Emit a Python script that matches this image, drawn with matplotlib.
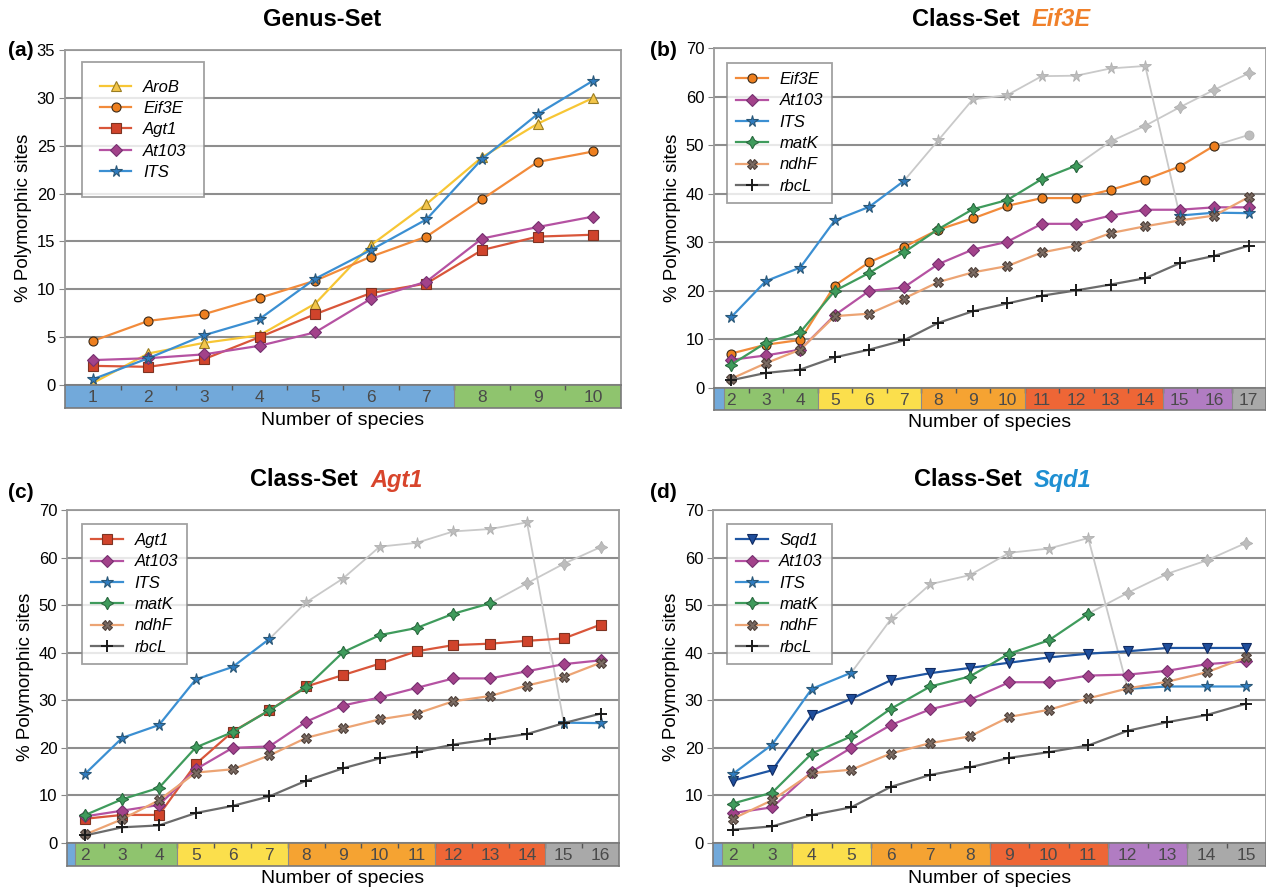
import numpy as np
import matplotlib
matplotlib.use('Agg')
import matplotlib.pyplot as plt

plt.rcParams['font.family'] = ['Liberation Sans', 'DejaVu Sans']

# ---- data ----
# (a) Genus-Set
species_a = list(range(1, 11))
arob_a = [0.2, 3.3, 4.4, 5.2, 8.5, 14.6, 18.9, 23.8, 27.3, 30.0]
eif3e_a = [4.6, 6.7, 7.4, 9.1, 10.9, 13.4, 15.5, 19.4, 23.3, 24.4]
agt1_a = [2.0, 1.9, 2.7, 5.0, 7.4, 9.6, 10.6, 14.1, 15.5, 15.7]
at103_a = [2.6, 2.8, 3.2, 4.1, 5.5, 9.0, 10.8, 15.3, 16.5, 17.6]
its_a = [0.6, 2.8, 5.2, 6.9, 11.1, 14.1, 17.3, 23.6, 28.3, 31.8]

# (b) Class-Set Eif3E
species_b = list(range(2, 18))
eif3e_b = [7.1, 8.9, 9.9, 21.1, 25.9, 29.0, 32.6, 34.9, 37.5, 39.1, 39.1, 40.8, 42.9, 45.6, 49.9]
eif3e_b_grey = [49.9, 52.1]
at103_b = [5.8, 6.7, 7.9, 15.0, 20.0, 20.7, 25.5, 28.5, 30.1, 33.8, 33.8, 35.5, 36.7, 36.7, 37.2, 37.2]
its_b = [14.6, 22.0, 24.8, 34.5, 37.3, 42.6]
its_b_grey = [42.6, 51.0, 59.4, 60.3, 64.2, 64.3, 65.8, 66.3, 35.5]
its_b_end = [35.5, 36.1, 36.0]
matk_b = [4.8, 9.3, 11.5, 20.0, 23.7, 27.9, 32.7, 36.8, 38.7, 43.0, 45.8]
matk_b_grey = [45.8, 50.8, 54.0, 57.8, 61.4, 64.8]
ndhf_b = [1.9, 5.1, 7.9, 14.8, 15.3, 18.4, 21.8, 23.8, 25.1, 27.9, 29.3, 31.9, 33.3, 34.5, 35.5, 39.3]
rbcl_b = [1.6, 3.1, 3.8, 6.3, 7.9, 9.8, 13.4, 15.8, 17.4, 19.0, 20.1, 21.3, 22.6, 25.7, 27.2, 29.3]

# (c) Class-Set Agt1
species_c = list(range(2, 17))
agt1_c = [5.1, 5.9, 5.9, 16.6, 23.4, 27.9, 32.9, 35.3, 37.7, 40.3, 41.6, 41.9, 42.5, 43.0, 45.9]
at103_c = [5.6, 6.8, 8.0, 15.5, 20.0, 20.3, 25.5, 28.9, 30.6, 32.6, 34.6, 34.6, 36.1, 37.6, 38.4]
its_c = [14.6, 22.1, 24.8, 34.4, 37.0, 42.9]
its_c_grey = [42.9, 50.6, 55.6, 62.3, 63.1, 65.5, 66.0, 67.4, 25.3]
its_c_end = [25.3, 25.2]
matk_c = [5.9, 9.2, 11.6, 20.1, 23.3, 27.9, 32.7, 40.1, 43.7, 45.2, 48.2, 50.4]
matk_c_grey = [50.4, 54.6, 58.7, 62.2]
ndhf_c = [1.8, 5.0, 9.0, 14.8, 15.5, 18.4, 22.1, 24.1, 26.0, 27.2, 29.8, 30.9, 33.1, 34.9, 37.9]
rbcl_c = [1.6, 3.3, 3.7, 6.3, 7.8, 9.8, 13.1, 15.7, 17.8, 19.1, 20.7, 21.8, 22.9, 25.2, 27.2]

# (d) Class-Set Sqd1
species_d = list(range(2, 16))
sqd1_d = [13.1, 15.3, 26.9, 30.3, 34.2, 35.7, 36.8, 37.9, 39.0, 39.8, 40.3, 41.0, 41.0, 41.0]
at103_d = [6.3, 7.5, 15.0, 20.0, 24.8, 28.1, 30.1, 33.8, 33.8, 35.2, 35.4, 36.2, 37.6, 38.2]
its_d = [14.5, 20.7, 32.4, 35.8]
its_d_grey = [35.8, 47.0, 54.4, 56.3, 61.0, 61.9, 64.1, 32.4]
its_d_end = [32.4, 32.9, 32.9, 32.9]
matk_d = [8.3, 10.6, 18.8, 22.4, 28.2, 32.9, 35.0, 39.8, 42.6, 48.2]
matk_d_grey = [48.2, 52.6, 56.6, 59.4, 63.1]
ndhf_d = [5.1, 9.0, 14.7, 15.4, 18.8, 21.0, 22.4, 26.5, 28.0, 30.4, 32.5, 33.9, 35.9, 39.0]
rbcl_d = [2.8, 3.5, 5.9, 7.5, 11.8, 14.3, 15.9, 17.9, 19.1, 20.5, 23.6, 25.4, 26.9, 29.3]

# colour strip under each x axis: (start, end, colour)
strip_a = [(0.5, 7.5, 'blue'), (7.5, 10.5, 'green')]
strip_b = [(1.5, 1.79, 'blue'), (1.79, 4.5, 'green'), (4.5, 7.5, 'yellow'), (7.5, 10.5, 'orange'),
           (10.5, 14.5, 'red'), (14.5, 16.5, 'purple'), (16.5, 17.5, 'grey')]
strip_c = [(1.5, 1.73, 'blue'), (1.73, 4.5, 'green'), (4.5, 7.5, 'yellow'), (7.5, 11.5, 'orange'),
           (11.5, 14.5, 'red'), (14.5, 16.5, 'grey')]
strip_d = [(1.5, 1.73, 'blue'), (1.73, 3.5, 'green'), (3.5, 5.5, 'yellow'), (5.5, 8.5, 'orange'),
           (8.5, 11.5, 'red'), (11.5, 13.5, 'purple'), (13.5, 15.5, 'grey')]

strip_colours = {'blue': '#72a9da', 'green': '#8fc46e', 'yellow': '#fbdf4c', 'orange': '#f5a332',
                 'red': '#ee6636', 'purple': '#b17cc2', 'grey': '#a9a9a9'}

# line colour, marker, marker face, marker edge
styles = {
    'AroB': ('#f7c635', '^', '#f3c54a', '#9a7d22'),
    'Eif3E': ('#f28b3b', 'o', '#ee7f1e', '#3b2a18'),
    'Agt1': ('#d9563a', 's', '#d0432b', '#7e3322'),
    'At103': ('#b552a2', 'D', '#a2428a', '#763070'),
    'ITS': ('#3b8fd2', '*', '#2f7cc0', '#2a5878'),
    'matK': ('#3f9b5c', (4, 1, 0), '#3f9b5c', '#2a6a40'),
    'ndhF': ('#eca474', 'X', '#7a6a62', '#4f4039'),
    'rbcL': ('#6b6b6b', '+', '#222222', '#222222'),
    'Sqd1': ('#1f56a3', 'v', '#1f4e9c', '#102a60'),
}
GREY = '#c9c9c9'

fig = plt.figure(figsize=(12.66, 8.93), dpi=100)
W, H = 1266, 893


def px_axes(left, top, right, bottom):
    return fig.add_axes([left / W, 1 - bottom / H, (right - left) / W, (bottom - top) / H])


def marker_size(mk):
    if mk == '*':
        return 8.5
    if mk == (4, 1, 0):
        return 9
    if mk == 'D':
        return 6
    return 6.5


def draw_series(ax, x, y, name, label=True):
    lc, mk, fc, ec = styles[name]
    if name == 'rbcL':
        ax.plot(x, y, color=lc, lw=1.6, marker='+', ms=8, mew=1.4, mec='#1a1a1a',
                label=name if label else None, zorder=3)
    else:
        ax.plot(x, y, color=lc, lw=1.6, marker=mk, ms=marker_size(mk), mfc=fc, mec=ec, mew=0.8,
                label=name if label else None, zorder=3)


def draw_grey(ax, x, y, name):
    # light grey continuation of a series
    mk = styles[name][1]
    ax.plot(x, y, color=GREY, lw=1.3, marker=mk, ms=marker_size(mk), mfc='#bdbdbd',
            mec='#b0b0b0', mew=0.6, zorder=2)


def setup_panel(box, strip_box, ymax, ystep, xlo, xhi, strip, species):
    ax = px_axes(*box)
    sx = px_axes(*strip_box)
    ax.set_xlim(xlo, xhi)
    ax.set_ylim(0, ymax)
    ax.set_yticks(np.arange(0, ymax + 1, ystep))
    ax.set_xticks([])
    ax.yaxis.grid(True, color='#8e8e8e', lw=1.5)
    ax.set_axisbelow(True)
    for s in ax.spines.values():
        s.set_color('#9a9a9a')
        s.set_linewidth(1.3)
    ax.tick_params(axis='y', length=4, color='#888888', labelsize=12, pad=3)
    ax.set_ylabel('% Polymorphic sites', fontsize=13.5, labelpad=3)

    # coloured strip with the species counts
    sx.set_xlim(xlo, xhi)
    sx.set_ylim(0, 1)
    for a, b, c in strip:
        sx.axvspan(a, b, color=strip_colours[c], lw=0)
        sx.axvline(b, color='#8a8a8a', lw=0.8)
    for n in species:
        sx.text(n, 0.45, str(n), ha='center', va='center', fontsize=12.5, color='#4a4a4a')
    sx.set_yticks([])
    sx.set_xticks([n + 0.5 for n in species[:-1]])
    sx.tick_params(axis='x', top=True, bottom=False, labelbottom=False, direction='in',
                   length=3.5, color='#555555', width=1)
    for s in sx.spines.values():
        s.set_color('#7a7a7a')
        s.set_linewidth(1.2)
    sx.set_xlabel('Number of species', fontsize=14, labelpad=3)
    return ax


def add_legend(ax, anchor, pad):
    leg = ax.legend(loc='upper left', bbox_to_anchor=anchor, frameon=True, fancybox=False,
                    edgecolor='#8a8a8a', prop={'style': 'italic', 'size': 12},
                    handlelength=1.9, labelspacing=0.38, borderpad=pad, handletextpad=0.7,
                    borderaxespad=0)
    leg.get_frame().set_linewidth(1.3)
    leg.set_zorder(5)


# ---- panel (a) ----
ax = setup_panel((65, 50, 621, 385), (65, 385, 621, 408), 35, 5, 0.5, 10.5, strip_a, species_a)
for name, vals in [('AroB', arob_a), ('Eif3E', eif3e_a), ('Agt1', agt1_a), ('At103', at103_a), ('ITS', its_a)]:
    draw_series(ax, species_a, vals, name)
add_legend(ax, (0.031, 0.964), 1.05)

# ---- panel (b) ----
ax = setup_panel((714, 48, 1266, 388), (714, 388, 1266, 410), 70, 10, 1.5, 17.5, strip_b, species_b)
draw_grey(ax, species_b[5:14], its_b_grey, 'ITS')
draw_grey(ax, species_b[10:], matk_b_grey, 'matK')
draw_grey(ax, species_b[14:], eif3e_b_grey, 'Eif3E')
draw_series(ax, species_b[:len(eif3e_b)], eif3e_b, 'Eif3E')
draw_series(ax, species_b, at103_b, 'At103')
draw_series(ax, species_b[:len(its_b)], its_b, 'ITS')
draw_series(ax, species_b[13:], its_b_end, 'ITS', label=False)
draw_series(ax, species_b[:len(matk_b)], matk_b, 'matK')
draw_series(ax, species_b, ndhf_b, 'ndhF')
draw_series(ax, species_b, rbcl_b, 'rbcL')
add_legend(ax, (0.024, 0.956), 0.55)

# ---- panel (c) ----
ax = setup_panel((67, 510, 619, 843), (67, 843, 619, 866), 70, 10, 1.5, 16.5, strip_c, species_c)
draw_grey(ax, species_c[5:14], its_c_grey, 'ITS')
draw_grey(ax, species_c[11:], matk_c_grey, 'matK')
draw_series(ax, species_c, agt1_c, 'Agt1')
draw_series(ax, species_c, at103_c, 'At103')
draw_series(ax, species_c[:len(its_c)], its_c, 'ITS')
draw_series(ax, species_c[13:], its_c_end, 'ITS', label=False)
draw_series(ax, species_c[:len(matk_c)], matk_c, 'matK')
draw_series(ax, species_c, ndhf_c, 'ndhF')
draw_series(ax, species_c, rbcl_c, 'rbcL')
add_legend(ax, (0.027, 0.958), 0.55)

# ---- panel (d) ----
ax = setup_panel((713, 510, 1266, 843), (713, 843, 1266, 866), 70, 10, 1.5, 15.5, strip_d, species_d)
draw_grey(ax, species_d[3:11], its_d_grey, 'ITS')
draw_grey(ax, species_d[9:], matk_d_grey, 'matK')
draw_series(ax, species_d, sqd1_d, 'Sqd1')
draw_series(ax, species_d, at103_d, 'At103')
draw_series(ax, species_d[:len(its_d)], its_d, 'ITS')
draw_series(ax, species_d[10:], its_d_end, 'ITS', label=False)
draw_series(ax, species_d[:len(matk_d)], matk_d, 'matK')
draw_series(ax, species_d, ndhf_d, 'ndhF')
draw_series(ax, species_d, rbcl_d, 'rbcL')
add_legend(ax, (0.025, 0.958), 0.55)

# ---- titles and panel letters ----
fig.text(322 / W, 1 - 20 / H, 'Genus-Set', ha='center', va='center', fontsize=17, weight='bold')
for xs, ys, gene, col in [(1020, 20, 'Eif3E', '#f0802a'), (358, 480, 'Agt1', '#d8452c'),
                          (1022, 480, 'Sqd1', '#1e8fd2')]:
    fig.text(xs / W, 1 - ys / H, 'Class-Set', ha='right', va='center', fontsize=17, weight='bold')
    fig.text((xs + 12) / W, 1 - ys / H, gene, ha='left', va='center', fontsize=17,
             weight='bold', style='italic', color=col)
for xs, ys, lab in [(8, 50, '(a)'), (650, 50, '(b)'), (8, 492, '(c)'), (650, 492, '(d)')]:
    fig.text(xs / W, 1 - ys / H, lab, ha='left', va='center', fontsize=15, weight='bold')

fig.savefig('out.png', dpi=100)
